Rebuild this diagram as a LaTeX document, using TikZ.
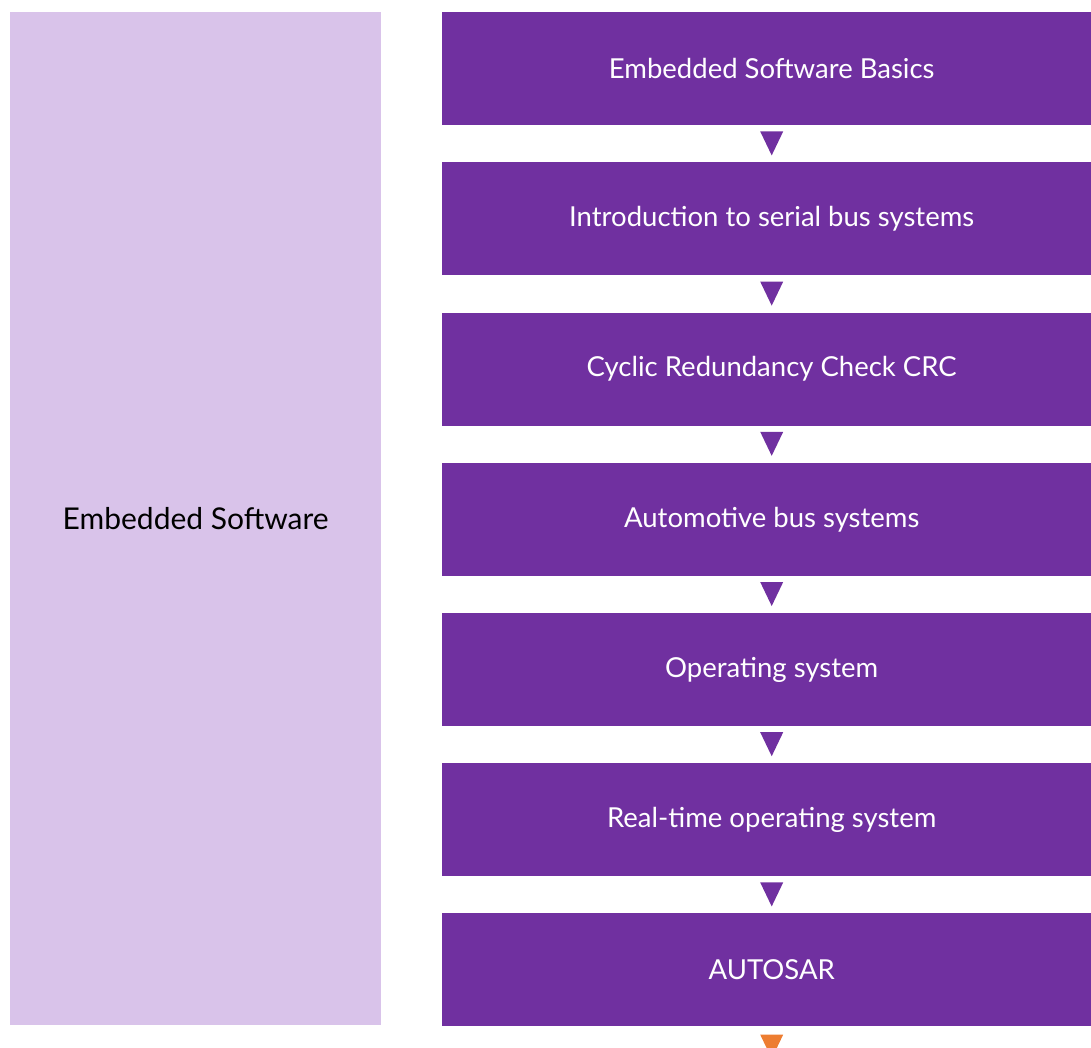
\documentclass[tikz,border=0pt]{standalone}
\usepackage{fontspec}
\setmainfont{Lato}
\definecolor{dpurple}{HTML}{7030A0}
\definecolor{lpurple}{HTML}{D9C3EA}
\definecolor{orng}{HTML}{ED7D31}
\begin{document}
\begin{tikzpicture}[x=1pt,y=-1pt,
  stepbox/.style={fill=dpurple,text=white,minimum width=659pt,minimum height=113pt,inner sep=0pt,font=\fontsize{27.5}{32}\selectfont,anchor=north west}]
\useasboundingbox (0,0) rectangle (1091,1047);
\clip (0,0) rectangle (1091,1047);
\node[fill=lpurple,minimum width=371pt,minimum height=1013pt,inner sep=0pt,anchor=north west,font=\fontsize{30}{34}\selectfont] (left) at (10,12) {Embedded Software};
\foreach \i/\t in {0/Embedded Software Basics,1/Introduction to serial bus systems,2/Cyclic Redundancy Check CRC,3/Automotive bus systems,4/Operating system,5/Real-time operating system,6/AUTOSAR}{
  \node[stepbox] (s\i) at (442,12+150.2*\i) {\t};
}
\foreach \i in {0,...,5}{
  \fill[dpurple] ([xshift=-11.5pt,yshift=-6pt]s\i.south) -- ([xshift=11.5pt,yshift=-6pt]s\i.south) -- ([yshift=-30pt]s\i.south) -- cycle;
}
\fill[orng] ([xshift=-11.5pt,yshift=-8pt]s6.south) -- ([xshift=11.5pt,yshift=-8pt]s6.south) -- ([yshift=-32pt]s6.south) -- cycle;
\end{tikzpicture}
\end{document}
